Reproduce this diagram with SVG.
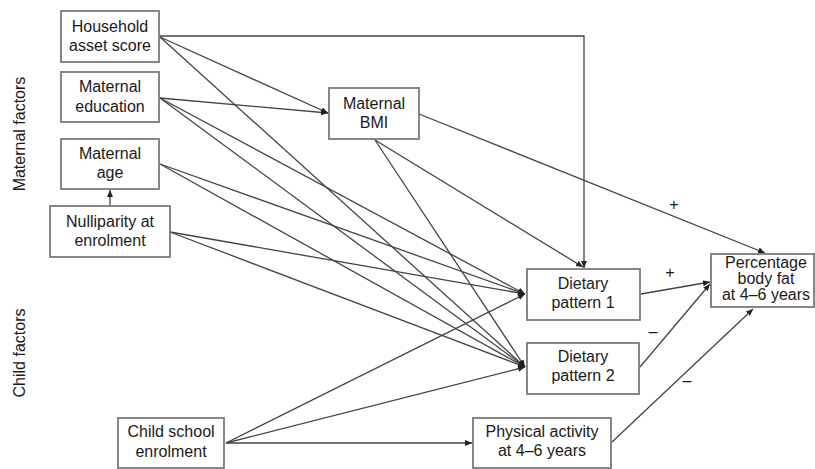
<svg xmlns="http://www.w3.org/2000/svg" width="815" height="469" viewBox="0 0 815 469">
<style>
.box{fill:#fff;stroke:#7a7a7a;stroke-width:1.8}
.t{font-family:"Liberation Sans",Arial,sans-serif;font-size:16px;fill:#1a1a1a;text-anchor:middle}
.c{fill:none;stroke:#444;stroke-width:1.3}
.s{font-family:"Liberation Sans",Arial,sans-serif;font-size:16px;fill:#1a1a1a;text-anchor:middle}
</style>
<defs>
<marker id="a" markerWidth="8" markerHeight="8" refX="7" refY="4" orient="auto" markerUnits="userSpaceOnUse">
<path d="M0,1 L7,4 L0,7 Z" fill="#222"/>
</marker>
</defs>
<rect width="815" height="469" fill="#fff"/>
<g id="connectors">
<path class="c" d="M160,36 H584 V268" marker-end="url(#a)"/>
<line class="c" x1="160" y1="37" x2="328" y2="113" marker-end="url(#a)"/>
<line class="c" x1="160" y1="37" x2="525" y2="367" marker-end="url(#a)"/>
<line class="c" x1="160" y1="98" x2="328" y2="113" marker-end="url(#a)"/>
<line class="c" x1="160" y1="98" x2="525" y2="294" marker-end="url(#a)"/>
<line class="c" x1="160" y1="98" x2="525" y2="367" marker-end="url(#a)"/>
<line class="c" x1="160" y1="164" x2="525" y2="294" marker-end="url(#a)"/>
<line class="c" x1="160" y1="164" x2="525" y2="367" marker-end="url(#a)"/>
<line class="c" x1="110" y1="206" x2="110" y2="190" marker-end="url(#a)"/>
<line class="c" x1="170" y1="232" x2="525" y2="294" marker-end="url(#a)"/>
<line class="c" x1="170" y1="232" x2="525" y2="367" marker-end="url(#a)"/>
<line class="c" x1="375" y1="140" x2="583" y2="267" marker-end="url(#a)"/>
<line class="c" x1="375" y1="140" x2="525" y2="367" marker-end="url(#a)"/>
<line class="c" x1="419" y1="114" x2="765" y2="253" marker-end="url(#a)"/>
<line class="c" x1="226" y1="443" x2="525" y2="294" marker-end="url(#a)"/>
<line class="c" x1="226" y1="443" x2="525" y2="367" marker-end="url(#a)"/>
<line class="c" x1="226" y1="443" x2="472" y2="443" marker-end="url(#a)"/>
<line class="c" x1="641" y1="294" x2="710" y2="282" marker-end="url(#a)"/>
<line class="c" x1="640" y1="367" x2="710" y2="284" marker-end="url(#a)"/>
<line class="c" x1="612" y1="442" x2="753" y2="309" marker-end="url(#a)"/>
<text class="s" x="674" y="210">+</text>
<text class="s" x="670" y="278">+</text>
<text class="s" x="653" y="337">–</text>
<text class="s" x="687" y="386">–</text>
</g>
<text class="s" transform="translate(25,134) rotate(-90)">Maternal factors</text>
<text class="s" transform="translate(25,353) rotate(-90)">Child factors</text>
<g id="household">
<rect class="box" x="61" y="11" width="98" height="51"/>
<text class="t" x="110" y="32">Household</text>
<text class="t" x="110" y="51">asset score</text>
</g>
<g id="education">
<rect class="box" x="61" y="72" width="98" height="50"/>
<text class="t" x="110" y="92">Maternal</text>
<text class="t" x="110" y="111.5">education</text>
</g>
<g id="age">
<rect class="box" x="61" y="139" width="98" height="50"/>
<text class="t" x="110" y="159">Maternal</text>
<text class="t" x="110" y="178">age</text>
</g>
<g id="nulliparity">
<rect class="box" x="50" y="206" width="120" height="51"/>
<text class="t" x="110" y="227">Nulliparity at</text>
<text class="t" x="110" y="246">enrolment</text>
</g>
<g id="bmi">
<rect class="box" x="329" y="88" width="90" height="51"/>
<text class="t" x="374" y="109">Maternal</text>
<text class="t" x="374" y="128">BMI</text>
</g>
<g id="school">
<rect class="box" x="118" y="418" width="106" height="50"/>
<text class="t" x="171" y="437">Child school</text>
<text class="t" x="171" y="457">enrolment</text>
</g>
<g id="diet1">
<rect class="box" x="527" y="269" width="113" height="51"/>
<text class="t" x="583" y="289">Dietary</text>
<text class="t" x="583" y="308">pattern 1</text>
</g>
<g id="diet2">
<rect class="box" x="527" y="343" width="112" height="51"/>
<text class="t" x="583" y="362">Dietary</text>
<text class="t" x="583" y="381">pattern 2</text>
</g>
<g id="physical">
<rect class="box" x="473" y="418" width="138" height="50"/>
<text class="t" x="542" y="437">Physical activity</text>
<text class="t" x="542" y="456">at 4–6 years</text>
</g>
<g id="bodyfat">
<rect class="box" x="711" y="254" width="103" height="53"/>
<text class="t" x="766" y="268">Percentage</text>
<text class="t" x="766" y="284">body fat</text>
<text class="t" x="766" y="300">at 4–6 years</text>
</g>
</svg>
